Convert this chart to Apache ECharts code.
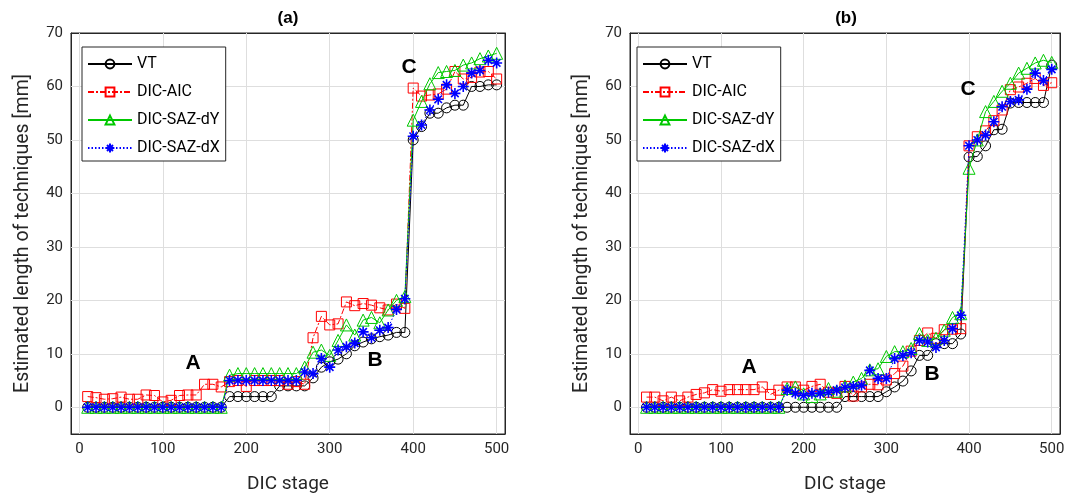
<!DOCTYPE html>
<html><head><meta charset="utf-8">
<script src="https://cdn.jsdelivr.net/npm/echarts@6/dist/echarts.min.js"></script>
<style>html,body{margin:0;padding:0;background:#fff}#c{width:1073px;height:500px}</style>
</head><body><div id="c"></div>
<script>
const stages = [10,20,30,40,50,60,70,80,90,100,110,120,130,140,150,160,170,180,190,200,210,220,230,240,250,260,270,280,290,300,310,320,330,340,350,360,370,380,390,400,410,420,430,440,450,460,470,480,490,500];
const xTicks = [0,100,200,300,400,500];
const yTicks = [0,10,20,30,40,50,60,70];
const seriesNames = ['VT','DIC-AIC','DIC-SAZ-dY','DIC-SAZ-dX'];

// Panel (a)
const vtA  = [0,0,0,0,0,0,0,0,0,0,0,0,0,0,0,0,0, 2,2,2,2,2,2, 4,4,4,4, 5.5,7.5,8.5,9,10,11.5,12.2,12.8,13.2,13.5,14,14, 50,52.5,55,55,56,56.5,56.5,60,60,60.3,60.3];
const aicA = [2,1.8,1.5,1.6,1.9,1.5,1.5,2.3,2.2,1.0,1.3,2.2,2.3,2.3,4.3,4.3,3.8, 4.8,5,3.9,5,5,5,5,4.3,4.8,4.3, 13,17,15.4,15.6,19.7,19,19.4,19.1,18.6,18.2,19.3,18.5, 59.7,58.2,58.4,58.6,59.5,62.8,61.4,61.7,62.7,62.8,61.4];
const dyA  = [0,0,0,0,0,0,0,0,0,0,0,0,0,0,0,0,0, 6,6.3,6.3,6.3,6.3,6.3,6.3,6.3,6.3,7.5, 10.3,10.7,9.7,12.5,15.4,13.5,16.3,16.8,15.8,18.2,20,20.7, 53.7,57.2,60.5,62.6,62.8,63,64,64.4,65.2,65.7,66.2];
const dxA  = [0,0,0,0,0,0,0,0,0,0,0,0,0,0,0,0,0, 5,5,5,5,5,5,5,5,5, 6.6,6.3,9.1,7.5,10.7,11.3,12,14.1,13,14.4,14.9,18.3,20.3, 50.7,52.8,55.6,57.6,60.3,58.7,60,62.5,63,64.9,64.4];

// Panel (b)
const vtB  = [0,0,0,0,0,0,0,0,0,0,0,0,0,0,0,0,0,0,0,0,0,0,0,0, 2,2,2,2,2, 2.9,3.8,4.9,6.8,9.7,9.7,11.9,11.9,11.9,13.7, 46.8,46.9,48.9,51.9,52,56.9,57,57,57,57,64];
const aicB = [1.9,1.9,1.2,1.9,1.2,1.9,2.4,2.7,3.3,3.0,3.3,3.3,3.3,3.3,3.8,2.4,3.2, 3.8,3.8,3.2,3.9,4.3,2.8,2.6,3.9,2.1,3.8,4.3,4.2,5.1,6.3,7.7,10.5,12.5,13.9,12.9,14.5,14.6,14.7, 48.9,50.6,51.7,53.6,55.6,59.4,59.9,60.6,61.5,60.2,60.7];
const dyB  = [0,0,0,0,0,0,0,0,0,0,0,0,0,0,0,0,0, 3.5,3.8,2.5,2.0,2.5,3.5,3,4,4.7,5.4,7,7.2,9.5,10.4,10.4,11,13.8,12.5,12.9,14.4,16.8,17.5, 44.7,50,55.3,57.2,59.1,60.6,62.5,63.4,64.4,64.9,64.5];
const dxB  = [0,0,0,0,0,0,0,0,0,0,0,0,0,0,0,0,0, 3.2,2.6,2.2,2.6,2.6,2.8,3.2,3.7,3.9,4.1,6.9,5.4,5.4,9.1,9.7,10.2,12.5,12.2,11.2,12.5,14.7,17.2, 48.9,50,50.9,53.4,56.2,57.2,57.5,59.5,62.5,61.1,63.2];

const FONT = 'Roboto, "Open Sans", sans-serif';
const AX = '#262626';
const X_MIN = -10, X_MAX = 510, Y_MIN = -5, Y_MAX = 70;
const asterisk = 'path://M0,5L10,5M5,0L5,10M1.6,1.6L8.4,8.4M8.4,1.6L1.6,8.4';

function pairs(vals){ return stages.map((s,i)=>[s, vals[i]]); }

const styles = [
  {symbol:'circle', symbolSize:10, color:'#000000', dash:'solid'},
  {symbol:'rect', symbolSize:10, color:'#ff0000', dash:[6,2,2,2]},
  {symbol:'triangle', symbolSize:12, color:'#00c800', dash:'solid'},
  {symbol:asterisk, symbolSize:11, color:'#0000ff', dash:[1.5,2]}
];

function mkSeries(idx, vals, axisIdx){
  const st = styles[idx];
  return {
    name: seriesNames[idx], type:'line', data: pairs(vals),
    xAxisIndex: axisIdx, yAxisIndex: axisIdx,
    symbol: st.symbol, symbolSize: st.symbolSize, showAllSymbol:true,
    lineStyle:{color:st.color, width:1, type:st.dash},
    itemStyle:{color: idx===3 ? st.color : 'rgba(255,255,255,0)', borderColor:st.color, borderWidth: idx===3?1.6:1},
    emphasis:{disabled:true}, animation:false, z: 10+idx
  };
}

function gridSeries(axisIdx){
  const lines = xTicks.filter(v=>v>X_MIN && v<X_MAX).map(v=>({xAxis:v}))
    .concat(yTicks.filter(v=>v>Y_MIN && v<Y_MAX).map(v=>({yAxis:v})));
  return {type:'line', xAxisIndex:axisIdx, yAxisIndex:axisIdx, data:[], silent:true, z:1,
    markLine:{silent:true, z:1, symbol:['none','none'], label:{show:false}, animation:false,
      lineStyle:{color:'#dedede', type:'solid', width:1}, emphasis:{disabled:true}, data:lines}};
}

function xAx(grid, pos, labels){
  return {type:'value', gridIndex:grid, position:pos, min:X_MIN, max:X_MAX,
    axisLine:{show:true, onZero:false, lineStyle:{color:AX}},
    axisTick:{show:true, inside:true, length:5, customValues:xTicks, lineStyle:{color:AX}},
    axisLabel:{show:labels, customValues:xTicks, fontFamily:FONT, fontSize:15, color:AX, margin:8},
    splitLine:{show:false},
    name: labels ? 'DIC stage' : '', nameLocation:'middle', nameGap:41,
    nameTextStyle:{fontFamily:FONT, fontSize:19, color:AX}};
}
function yAx(grid, pos, labels){
  return {type:'value', gridIndex:grid, position:pos, min:Y_MIN, max:Y_MAX,
    axisLine:{show:true, onZero:false, lineStyle:{color:AX}},
    axisTick:{show:true, inside:true, length:5, customValues:yTicks, lineStyle:{color:AX}},
    axisLabel:{show:labels, customValues:yTicks, fontFamily:FONT, fontSize:15, color:AX, margin:8},
    splitLine:{show:false},
    name: labels ? 'Estimated length of techniques [mm]' : '', nameLocation:'middle', nameGap:38,
    nameTextStyle:{fontFamily:FONT, fontSize:19.5, color:AX}};
}

function legendAt(left){
  return {left:left, top:47, orient:'vertical', data:seriesNames, itemWidth:44, itemHeight:11, itemGap:12,
    backgroundColor:'#fff', borderColor:AX, borderWidth:1, padding:[9,6,5,5],
    textStyle:{fontFamily:FONT, fontSize:16, color:'#000'}, selectedMode:false, z:20};
}

function txt(x,y,t,size){
  return {type:'text', x:x, y:y, z:100, style:{text:t, fontFamily:'"Liberation Sans", Arial, sans-serif', fontWeight:'bold', fontSize:size, fill:'#000', textAlign:'center', textVerticalAlign:'middle'}};
}

const chart = echarts.init(document.getElementById('c'), null, {renderer:'canvas'});
chart.setOption({
  backgroundColor:'#fff',
  animation:false,
  grid:[
    {left:71, top:33, width:434, height:401, show:true, borderColor:AX, borderWidth:1},
    {left:630, top:33, width:430, height:401, show:true, borderColor:AX, borderWidth:1}
  ],
  xAxis:[xAx(0,'bottom',true), xAx(1,'bottom',true), xAx(0,'top',false), xAx(1,'top',false)],
  yAxis:[yAx(0,'left',true), yAx(1,'left',true), yAx(0,'right',false), yAx(1,'right',false)],
  legend:[legendAt(82), legendAt(637)],
  series:[
    gridSeries(0), gridSeries(1),
    mkSeries(0, vtA, 0), mkSeries(1, aicA, 0), mkSeries(2, dyA, 0), mkSeries(3, dxA, 0),
    mkSeries(0, vtB, 1), mkSeries(1, aicB, 1), mkSeries(2, dyB, 1), mkSeries(3, dxB, 1)
  ],
  graphic:[
    txt(288,18,'(a)',17), txt(846,18,'(b)',17),
    txt(193,363,'A',21), txt(375,360,'B',21), txt(409,67,'C',21),
    txt(749,367,'A',21), txt(932,374,'B',21), txt(968,89,'C',21)
  ]
});
</script></body></html>
